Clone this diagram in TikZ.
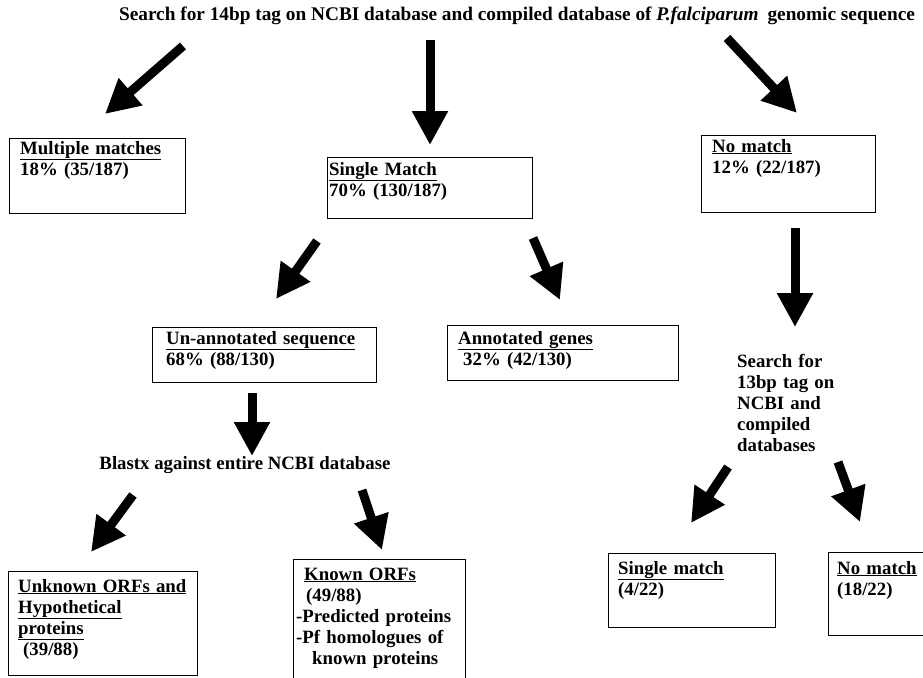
\documentclass[tikz,border=0pt]{standalone}
\usepackage{fontspec}
\setmainfont{Liberation Serif}
\usetikzlibrary{arrows.meta}
\begin{document}
\begin{tikzpicture}[x=1pt,y=-1pt,
  bigarrow/.style={line width=9pt, -{Triangle[length=34pt,width=34pt]}},
  boxline/.style={draw, line width=1.2pt, inner sep=0pt, anchor=north west},
  txt/.style={anchor=base west, inner sep=0pt, text width=240pt, align=left,
    font=\fontsize{18.8}{21}\selectfont\bfseries},
]
\useasboundingbox (0,0) rectangle (923,677);

% title
\node[anchor=base, inner sep=0pt, font=\fontsize{19.3}{22}\selectfont\bfseries] (title) at (517,21)
  {Search for 14bp tag on NCBI database and compiled database of \textit{P.falciparum}\hspace{9pt}genomic sequence};

% boxes
\node[boxline, minimum width=176pt, minimum height=75pt] (multbox) at (9,138) {};
\node[boxline, minimum width=205pt, minimum height=61pt] (singbox) at (327,157) {};
\node[boxline, minimum width=174pt, minimum height=77pt] (nobox) at (701,135) {};
\node[boxline, minimum width=224pt, minimum height=55pt] (unbox) at (152,327) {};
\node[boxline, minimum width=231pt, minimum height=55pt] (annbox) at (447,325) {};
\node[boxline, minimum width=189pt, minimum height=104pt] (unkbox) at (8,571) {};
\node[boxline, minimum width=172pt, minimum height=140pt] (knbox) at (293,559) {};
\node[boxline, minimum width=167pt, minimum height=74pt] (sm2box) at (608,553) {};
\node[boxline, minimum width=120pt, minimum height=83pt] (nm2box) at (828,552) {};

% box texts
\node[txt] (multxt) at (20,154) {\underline{Multiple matches}\\18\% (35/187)};
\node[txt] (singtxt) at (329,175) {\underline{Single Match}\\70\% (130/187)};
\node[txt] (notxt) at (712,152) {\underline{No match}\\12\% (22/187)};
\node[txt] (untxt) at (166,344) {\underline{Un-annotated sequence}\\68\% (88/130)};
\node[txt] (anntxt) at (458,344) {\underline{Annotated genes}\\\hspace*{5pt}32\% (42/130)};
\node[txt] (unktxt) at (18,592) {\underline{Unknown ORFs and}\\\underline{Hypothetical}\\\underline{proteins}\\\hspace*{5pt}(39/88)};
\node[txt] (kntxt) at (296,580) {\hspace*{8pt}\underline{Known ORFs}\\\hspace*{10pt}(49/88)\\-Predicted proteins\\-Pf homologues of\\\hspace*{16pt}known proteins};
\node[txt] (sm2txt) at (618,574) {\underline{Single match}\\(4/22)};
\node[txt] (nm2txt) at (837,574) {\underline{No match}\\(18/22)};

% free texts
\node[anchor=base, inner sep=0pt, font=\fontsize{18.8}{21}\selectfont\bfseries] (blastx) at (245,469)
  {Blastx against entire NCBI database};
\node[txt] (search13) at (737,367) {Search for\\13bp tag on\\NCBI and\\compiled\\databases};

% arrow end points
\coordinate (a1s) at (183,46);  \coordinate (a1e) at (105,114);
\coordinate (a2s) at (430,40);  \coordinate (a2e) at (430,145);
\coordinate (a3s) at (727,38);  \coordinate (a3e) at (797,113);
\coordinate (a4s) at (317,241); \coordinate (a4e) at (276,299);
\coordinate (a5s) at (533,238); \coordinate (a5e) at (560,300);
\coordinate (a6s) at (252,393); \coordinate (a6e) at (252,456);
\coordinate (a7s) at (133,495); \coordinate (a7e) at (91,552);
\coordinate (a8s) at (362,490); \coordinate (a8e) at (382,550);
\coordinate (a9s) at (795,228); \coordinate (a9e) at (795,327);
\coordinate (a10s) at (728,467); \coordinate (a10e) at (691,523);
\coordinate (a11s) at (838,462); \coordinate (a11e) at (860,522);

\foreach \i in {1,...,11} {
  \draw[bigarrow] (a\i s) -- (a\i e);
}
\end{tikzpicture}
\end{document}
